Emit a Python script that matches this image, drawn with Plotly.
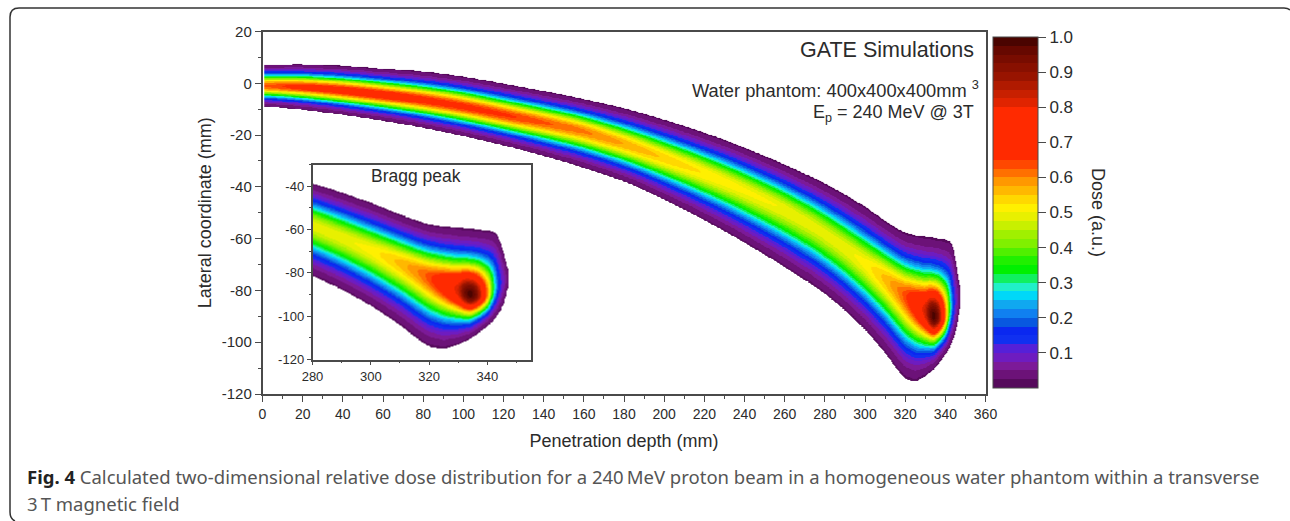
import numpy as np
import plotly.graph_objects as go

W, H = 1290, 521

# depth stations (mm), beam outer edges, centre line, peak dose
depth = [0, 20, 40, 60, 80, 100, 120, 140, 158, 183, 208, 233, 258, 270, 280, 290, 300, 310,
         316, 320, 325, 330, 332, 334, 336, 338, 340, 342, 343, 344, 345.6, 346.5, 347.3]
upper_edge = [7.3, 7.6, 7.0, 5.8, 4.8, 2.8, 0, -2.8, -5.6, -10, -15.8, -22.5, -30.5, -34.8, -38.5, -42.8, -47.5, -53,
              -56, -57.5, -58.5, -59, -59.3, -59.5, -59.8, -60, -60.3, -60.8, -61.5, -64, -71, -76, -80]
lower_edge = [-8.7, -10, -12, -14.3, -17, -20.3, -23.8, -27.9, -32, -38.5, -47.8, -58.2, -69.8, -75.8, -81, -87.5, -95, -104,
              -110.5, -114, -115, -113, -111.5, -110.5, -108.5, -106.5, -104.5, -102, -100, -98.5, -94, -90, -84]
centre = [-0.8, -1.3, -2.6, -4.3, -6.3, -8.8, -12, -15, -17.9, -24, -31, -38.8, -47.8, -53, -58, -63.5, -69.5, -75.5,
          -79.3, -82, -85, -88, -89, -90, -90, -90, -89.5, -87, -86, -85, -83.5, -82.5, -82]
peak_dose = [0.62, 0.68, 0.70, 0.70, 0.68, 0.67, 0.66, 0.63, 0.61, 0.57, 0.535, 0.51, 0.50, 0.49, 0.49, 0.49, 0.51, 0.56,
             0.60, 0.64, 0.72, 0.83, 0.95, 1.0, 0.95, 0.80, 0.60, 0.33, 0.22, 0.15, 0.07, 0.045, 0.03]

x_ticks = list(range(0, 361, 20))
y_ticks = list(range(-120, 21, 20))
inset_x_ticks = [280, 300, 320, 340]
inset_y_ticks = [-120, -100, -80, -60, -40]
cbar_ticks = [0.1, 0.2, 0.3, 0.4, 0.5, 0.6, 0.7, 0.8, 0.9, 1.0]

# 40 dose bands, bottom to top of the colour bar
band_colors = ["#560a5c", "#6c1278", "#7c1a98", "#6e1cc0", "#5520d8", "#1030f0", "#0a28f0", "#0858e0",
               "#1080f0", "#10a8f0", "#00d8f8", "#20f0c8", "#10f060", "#00f000", "#20f000", "#50f000",
               "#80f000", "#a0f000", "#c8f000", "#e8f000", "#fff000", "#ffd800", "#ffb800", "#ff9800",
               "#ff7000", "#ff4800", "#ff2a00", "#ff2a00", "#ff2a00", "#ff2a00", "#ff2a00", "#ff2a00",
               "#e02400", "#c82000", "#b01a00", "#981400", "#881000", "#780c00", "#660800", "#4a0400"]

colorscale = []
for i, c in enumerate(band_colors):
    colorscale.append([i / 40, c])
    colorscale.append([(i + 1) / 40, c])

# dose field: the beam cross-section is gaussian, its width set by the edges read above
CUT = 0.02
xs = np.arange(1, 347.5, 0.25)
ys = np.arange(12, -118, -0.25)


def hann_smooth(v, n):
    k = np.hanning(n)
    k = k / k.sum()
    return np.convolve(np.pad(v, n // 2, mode="edge"), k, mode="valid")


def smooth(values):
    # wide smoothing along the beam, tight near the Bragg peak
    v = np.interp(xs, depth, values)
    blend = np.clip((305 - xs) / 20, 0, 1)
    return blend * hann_smooth(v, 121) + (1 - blend) * hann_smooth(v, 13)


c_line = smooth(centre)
up = smooth(upper_edge)
lo = smooth(lower_edge)
d = smooth(peak_dose)
spread = np.sqrt(2 * np.log(np.maximum(d, CUT * 1.05) / CUT))
s_up = np.maximum(up - c_line, 0.2) / spread
s_lo = np.maximum(c_line - lo, 0.2) / spread

yy, xx = np.meshgrid(ys, xs, indexing="ij")
sig = np.where(yy >= c_line, s_up, s_lo)
dose = d * np.exp(-((yy - c_line) ** 2) / (2 * sig**2))
dose[dose < CUT] = np.nan
dose = dose.astype(np.float32)

inset_cols = xs >= 280

fig = go.Figure()
fig.add_trace(go.Heatmap(x=xs, y=ys, z=dose, coloraxis="coloraxis", hoverinfo="skip", zsmooth="best"))
fig.add_trace(go.Heatmap(x=xs[inset_cols], y=ys, z=dose[:, inset_cols], coloraxis="coloraxis",
                         xaxis="x2", yaxis="y2", hoverinfo="skip", zsmooth="best"))

AXIS = "#4a4a4a"
TXT = "#2b2b2b"
FONT = "Liberation Sans"


def px(v):
    return v / W


def py(v):
    return 1 - v / H


def axis(**kw):
    return dict(showgrid=False, zeroline=False, showline=True, mirror=True, linecolor=AXIS, linewidth=1.5,
                ticks="outside", tickcolor=AXIS, tickwidth=1.2, **kw)


fig.update_layout(
    width=W, height=H,
    margin=dict(l=0, r=0, t=0, b=0, autoexpand=False),
    paper_bgcolor="white", plot_bgcolor="white",
    font=dict(family=FONT, color=TXT),
    xaxis=axis(domain=[px(262.5), px(985.5)], range=[0, 360], tickvals=x_ticks, ticktext=[str(t) for t in x_ticks],
               ticklen=6, tickfont=dict(size=14), tickangle=0,
               minor=dict(dtick=10, ticklen=3, ticks="outside", tickcolor=AXIS),
               title=dict(text="Penetration depth (mm)", font=dict(size=18), standoff=14)),
    yaxis=axis(domain=[py(394), py(31.5)], range=[-120, 20], tickvals=y_ticks, ticktext=[str(t) for t in y_ticks],
               ticklen=6, tickfont=dict(size=15),
               minor=dict(dtick=10, ticklen=3, ticks="outside", tickcolor=AXIS),
               title=dict(text="Lateral coordinate (mm)", font=dict(size=18), standoff=5)),
    xaxis2=axis(domain=[px(312.5), px(531)], range=[280, 355], tickvals=inset_x_ticks,
                ticktext=[str(t) for t in inset_x_ticks], ticklen=4, anchor="y2", tickfont=dict(size=13),
                minor=dict(dtick=10, ticklen=2, ticks="outside", tickcolor=AXIS)),
    yaxis2=axis(domain=[py(359.5), py(164.5)], range=[-120, -30], tickvals=inset_y_ticks,
                ticktext=[str(t) for t in inset_y_ticks], ticklen=4, anchor="x2", tickfont=dict(size=13),
                minor=dict(dtick=10, ticklen=2, ticks="outside", tickcolor=AXIS)),
    coloraxis=dict(
        colorscale=colorscale, cmin=0, cmax=1,
        colorbar=dict(
            x=px(993), xanchor="left", y=py(37), yanchor="top",
            thicknessmode="pixels", thickness=45, lenmode="pixels", len=351,
            xpad=0, ypad=0, tickvals=cbar_ticks, tickformat=".1f", ticks="outside", ticklen=8,
            tickprefix="\u2009", tickcolor=AXIS, tickfont=dict(size=17), outlinecolor=AXIS, outlinewidth=1,
        ),
    ),
)


def note(text, x, y, size, anchor="right", color=TXT, family=FONT, angle=0):
    fig.add_annotation(xref="paper", yref="paper", x=px(x), y=py(y), text=text, showarrow=False, textangle=angle,
                       xanchor=anchor, yanchor="middle", font=dict(size=size, color=color, family=family))


note("GATE Simulations", 976, 50, 21.5)
note("Water phantom: 400x400x400mm <sup>3</sup>", 981, 89, 18.3)
note("E<sub>p</sub> = 240 MeV @ 3T", 976, 113, 18)
note("Bragg peak", 416, 176, 17.5, anchor="center")
note("Dose (a.u.)", 1098, 212, 18, anchor="center", angle=90)

CAP = "Noto Sans"
note("<span style='color:#222222'><b>Fig. 4</b></span> Calculated two-dimensional relative dose distribution "
     "for a 240\u2009MeV proton beam in a homogeneous water phantom within a transverse",
     25, 476, 18.5, anchor="left", color="#555555", family=CAP)
note("3\u2009T magnetic field", 25, 503, 18.5, anchor="left", color="#555555", family=CAP)

# card border, open at the right
fig.add_shape(type="path", xref="paper", yref="paper",
              path=f"M {px(15)} {py(521)} Q {px(10)} {py(519)} {px(10)} {py(512)} L {px(10)} {py(17)} "
                   f"Q {px(10)} {py(8)} {px(19)} {py(8)} L {px(1284)} {py(8)} Q {px(1288)} {py(8)} {px(1290)} {py(10)}",
              line=dict(color="#333333", width=1.5))

fig.write_html("out.html", config={"displayModeBar": False}, post_script="document.body.style.margin='0';")
